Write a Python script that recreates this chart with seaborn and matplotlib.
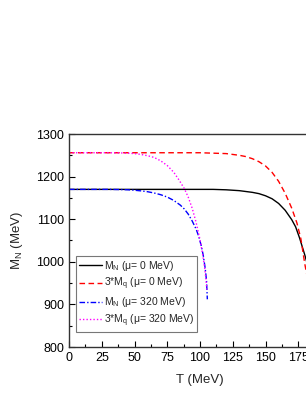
import numpy as np
import pandas as pd
import seaborn as sns
import matplotlib.pyplot as plt
from matplotlib.ticker import MultipleLocator

# M_N, mu = 0 MeV
t_mn0 = [0, 20, 40, 60, 80, 100, 110, 120, 125, 130, 135, 140, 145, 150, 155,
         160, 165, 170, 173, 176, 178, 180, 182]
v_mn0 = [1170, 1170, 1170, 1170, 1170, 1170, 1170, 1169, 1168, 1167, 1165, 1163,
         1160, 1155, 1148, 1137, 1121, 1099, 1082, 1056, 1036, 1016, 994]

# 3*M_q, mu = 0 MeV
t_mq0 = [0, 20, 40, 60, 80, 100, 110, 120, 125, 130, 135, 140, 145, 150, 155,
         160, 165, 170, 174, 177, 180, 182]
v_mq0 = [1256, 1256, 1256, 1256, 1256, 1256, 1255, 1254, 1252, 1250, 1247, 1242,
         1235, 1225, 1210, 1189, 1161, 1126, 1091, 1054, 995, 962]

# M_N, mu = 320 MeV
t_mn320 = [0, 10, 20, 30, 40, 45, 50, 55, 60, 65, 70, 75, 80, 85, 88, 91, 94, 97,
           99, 101, 102.5, 104, 105, 105.6]
v_mn320 = [1170, 1170, 1170, 1170, 1169.5, 1169, 1168, 1166.5, 1164.5, 1161.5,
           1157.5, 1152, 1144, 1133, 1124, 1112, 1096, 1077, 1060, 1037, 1015,
           984, 955, 912]

# 3*M_q, mu = 320 MeV
t_mq320 = [0, 10, 20, 30, 40, 45, 50, 55, 60, 65, 70, 75, 80, 84, 88, 91, 94, 97,
           100, 102, 103.5, 104.6, 105.2]
v_mq320 = [1256, 1256, 1256, 1256, 1255.5, 1255, 1254, 1252, 1249, 1245, 1237,
           1226, 1210, 1192, 1172, 1152, 1126, 1093, 1052, 1018, 988, 958, 935]

series = [
    (t_mn0, v_mn0, "M$_N$ (\u03bc= 0 MeV)", "black", None),
    (t_mq0, v_mq0, "3*M$_q$ (\u03bc= 0 MeV)", "#ff0000", (4, 2.5)),
    (t_mn320, v_mn320, "M$_N$ (\u03bc= 320 MeV)", "#0000ff", (4, 1.5, 1, 1.5)),
    (t_mq320, v_mq320, "3*M$_q$ (\u03bc= 320 MeV)", "#ff00ff", (1, 1.5)),
]

sns.set_style("ticks")
plt.rcParams["font.family"] = ["Liberation Sans", "DejaVu Sans"]
plt.rcParams["mathtext.default"] = "regular"

fig = plt.figure(figsize=(3.06, 3.96), dpi=100)
ax = fig.add_axes([69 / 306, 49 / 396, 262 / 306, 213 / 396])

for t, v, lab, col, dash in series:
    df = pd.DataFrame({"T": t, "M": v})
    sns.lineplot(data=df, x="T", y="M", ax=ax, color=col, lw=1.0, label=lab,
                 estimator=None, sort=False)
    if dash is not None:
        ax.lines[-1].set_dashes(dash)

ax.set_xlim(0, 200)
ax.set_ylim(800, 1300)
ax.xaxis.set_major_locator(MultipleLocator(25))
ax.xaxis.set_minor_locator(MultipleLocator(12.5))
ax.yaxis.set_major_locator(MultipleLocator(100))
ax.yaxis.set_minor_locator(MultipleLocator(50))
ax.tick_params(which="both", direction="in", top=False, right=False,
               labelsize=9, width=0.8, colors="black")
ax.tick_params(which="major", length=4)
ax.tick_params(which="minor", length=2)
for s in ax.spines.values():
    s.set_linewidth(1.0)
    s.set_color("#333333")

ax.set_xlabel("T (MeV)", fontsize=9.5, labelpad=7)
ax.set_ylabel("M$_N$ (MeV)", fontsize=9.5, labelpad=8)

leg = ax.legend(loc="lower left", bbox_to_anchor=(75.7 / 306, 64 / 396),
                bbox_transform=fig.transFigure, borderaxespad=0, fontsize=7.5,
                frameon=True, fancybox=False, edgecolor="#555555",
                handlelength=2.2, handletextpad=0.2, labelspacing=0.3,
                borderpad=0.3)
leg.get_frame().set_linewidth(0.8)

fig.savefig("out.png", dpi=100)
